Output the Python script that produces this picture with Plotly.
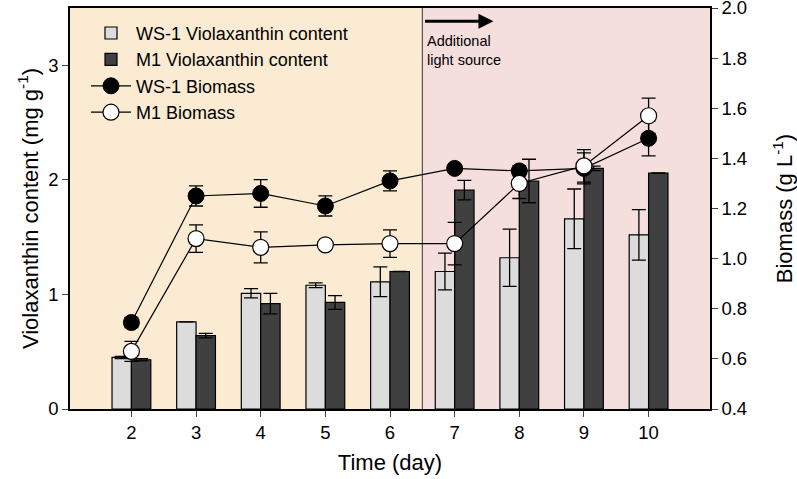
import plotly.graph_objects as go

days = [2, 3, 4, 5, 6, 7, 8, 9, 10]

ws1_vio = [0.45, 0.76, 1.01, 1.08, 1.11, 1.20, 1.32, 1.66, 1.52]
ws1_vio_err = [0.01, 0.0, 0.04, 0.02, 0.13, 0.16, 0.25, 0.26, 0.22]
m1_vio = [0.43, 0.64, 0.92, 0.93, 1.20, 1.91, 1.99, 2.10, 2.06]
m1_vio_err = [0.01, 0.02, 0.09, 0.06, 0.0, 0.085, 0.19, 0.02, 0.0]

ws1_bio = [0.745, 1.25, 1.26, 1.21, 1.31, 1.36, 1.35, 1.36, 1.48]
ws1_bio_err = [0.02, 0.04, 0.055, 0.04, 0.04, 0.01, 0.02, 0.062, 0.07]
m1_bio = [0.63, 1.08, 1.045, 1.055, 1.06, 1.06, 1.30, 1.37, 1.57]
m1_bio_err = [0.04, 0.055, 0.062, 0.0, 0.055, 0.085, 0.06, 0.065, 0.07]

light_start = 6.5
x_range = [1.05, 10.95]
left_color = "rgb(250,235,210)"
right_color = "rgb(245,223,221)"

FONT = "Arial, Liberation Sans, sans-serif"

fig = go.Figure()
fig.add_trace(go.Bar(
    x=days, y=ws1_vio, name="WS-1 Violaxanthin content",
    marker=dict(color="#dcdcdc", line=dict(color="black", width=1.2)),
    error_y=dict(type="data", array=ws1_vio_err, color="black", thickness=1.3, width=7),
))
fig.add_trace(go.Bar(
    x=days, y=m1_vio, name="M1 Violaxanthin content",
    marker=dict(color="#404040", line=dict(color="black", width=1.2)),
    error_y=dict(type="data", array=m1_vio_err, color="black", thickness=1.3, width=7),
))
fig.add_trace(go.Scatter(
    x=days, y=ws1_bio, name="WS-1 Biomass", yaxis="y2", mode="lines+markers",
    line=dict(color="black", width=1.2),
    marker=dict(symbol="circle", size=16, color="black", line=dict(color="black", width=1)),
    error_y=dict(type="data", array=ws1_bio_err, color="black", thickness=1.3, width=7),
))
fig.add_trace(go.Scatter(
    x=days, y=m1_bio, name="M1 Biomass", yaxis="y2", mode="lines+markers",
    line=dict(color="black", width=1.2),
    marker=dict(symbol="circle", size=16, color="white", line=dict(color="black", width=1.2)),
    error_y=dict(type="data", array=m1_bio_err, color="black", thickness=1.3, width=7),
))

fig.add_shape(type="rect", xref="x", yref="paper", x0=x_range[0], x1=light_start, y0=0, y1=1,
              fillcolor=left_color, line=dict(width=0), layer="below")
fig.add_shape(type="rect", xref="x", yref="paper", x0=light_start, x1=x_range[1], y0=0, y1=1,
              fillcolor=right_color, line=dict(width=0), layer="below")
fig.add_shape(type="line", xref="x", yref="paper", x0=light_start, x1=light_start, y0=0, y1=1,
              line=dict(color="#333333", width=1), layer="below")

fig.add_annotation(x=7.6, y=0.967, xref="x", yref="y domain", ax=light_start + 0.02, ay=0.967,
                   axref="x", ayref="y domain", text="", showarrow=True,
                   arrowhead=2, arrowsize=1, arrowwidth=3, arrowcolor="black")
fig.add_annotation(x=light_start + 0.04, y=0.895, xref="x", yref="paper", xanchor="left",
                   yanchor="middle", align="left", showarrow=False,
                   text="Additional<br>light source", font=dict(size=14.5, color="black", family=FONT))

fig.update_layout(
    width=797, height=479,
    margin=dict(l=70, r=87, t=8, b=70, autoexpand=False),
    paper_bgcolor="white", plot_bgcolor=left_color,
    barmode="group", bargap=0.4, bargroupgap=0,
    font=dict(family=FONT, color="black"),
    showlegend=True,
    legend=dict(x=0.025, y=0.983, xanchor="left", yanchor="top", bgcolor="rgba(0,0,0,0)",
                font=dict(size=18, family=FONT), traceorder="normal", itemwidth=40),
    xaxis=dict(range=x_range, tickvals=days, ticks="outside", ticklen=6, tickwidth=1.3,
               showline=True, linecolor="black", linewidth=1.5, mirror=True, showgrid=False,
               zeroline=False, tickfont=dict(size=18.5), ticklabeloverflow="allow", automargin=False,
               title=dict(text="Time (day)", font=dict(size=22), standoff=13)),
    yaxis=dict(range=[0, 3.5], tickvals=[0, 1, 2, 3], ticks="outside", ticklen=6, tickwidth=1.3,
               showline=True, linecolor="black", linewidth=1.5, showgrid=False, zeroline=False,
               tickfont=dict(size=18.5), ticklabeloverflow="allow", automargin=False,
               title=dict(text="Violaxanthin content (mg g<sup>-1</sup>)", font=dict(size=22), standoff=4)),
    yaxis2=dict(range=[0.4, 2.0], tickvals=[0.4, 0.6, 0.8, 1.0, 1.2, 1.4, 1.6, 1.8, 2.0],
                ticktext=["0.4", "0.6", "0.8", "1.0", "1.2", "1.4", "1.6", "1.8", "2.0"],
                overlaying="y", side="right", ticks="outside", ticklen=6, tickwidth=1.3,
                showline=True, linecolor="black", linewidth=1.5, showgrid=False, zeroline=False,
                tickfont=dict(size=18.5), ticklabeloverflow="allow", automargin=False,
                title=dict(text="Biomass (g L<sup>-1</sup>)", font=dict(size=22), standoff=35)),
)

fig.write_html("out.html", config={"displayModeBar": False},
               post_script="document.body.style.margin='0';")
